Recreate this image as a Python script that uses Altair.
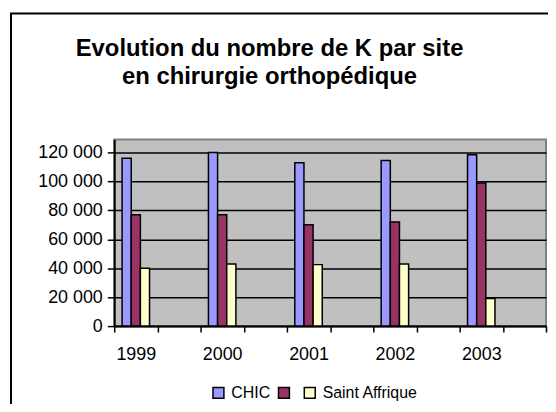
import altair as alt
import pandas as pd

years = ["1999", "2000", "2001", "2002", "2003"]
series = ["CHIC", " ", "Saint Affrique"]
chic = [116000, 120000, 113000, 114500, 118500]
second = [77000, 77000, 70000, 72000, 99000]
saint = [40000, 43000, 42500, 43000, 19000]
colors = ["#9999FF", "#993366", "#FFFFCC"]
y_ticks = [0, 20000, 40000, 60000, 80000, 100000, 120000]

cats = []
for i, y in enumerate(years):
    cats += [y, " " * (i + 1)]

rows = []
for vals, s in zip([chic, second, saint], series):
    for y, v in zip(years, vals):
        rows.append({"cat": y, "series": s, "value": v})
df = pd.DataFrame(rows)

FONT = "Liberation Sans"

bars = alt.Chart(df).mark_bar(stroke="black", strokeWidth=1.5).encode(
    x=alt.X("cat:N",
            scale=alt.Scale(domain=cats, paddingInner=0, paddingOuter=0),
            axis=alt.Axis(title=None, labelAngle=0, tickBand="extent",
                          labelFont=FONT, labelFontSize=18, labelColor="black",
                          tickSize=6, tickColor="black", tickWidth=1.5,
                          domainColor="black", domainWidth=2, labelPadding=14,
                          grid=False)),
    xOffset=alt.XOffset("series:N",
                        scale=alt.Scale(domain=series, paddingInner=0, paddingOuter=0.86)),
    y=alt.Y("value:Q", stack=None,
            scale=alt.Scale(domain=[0, 129000], nice=False),
            axis=alt.Axis(title=None, values=y_ticks,
                          labelExpr="datum.value == 0 ? '0' : (datum.value / 1000) + ' 000'",
                          labelFont=FONT, labelFontSize=18, labelColor="black",
                          tickSize=7, tickColor="black", tickWidth=1.5,
                          domainColor="black", domainWidth=2, labelPadding=5,
                          grid=True, gridColor="black", gridWidth=1.5)),
    color=alt.Color("series:N",
                    scale=alt.Scale(domain=series, range=colors),
                    legend=alt.Legend(title=None, orient="none", direction="horizontal",
                                      legendX=97, legendY=247,
                                      symbolType="square", symbolSize=121,
                                      symbolStrokeColor="black", symbolStrokeWidth=1.5,
                                      labelFont=FONT, labelFontSize=16, labelColor="black",
                                      labelOffset=5, columnPadding=4)),
)

frame_df = pd.DataFrame({"k": [0]})
frame_left = alt.Chart(frame_df).mark_rule(color="black", strokeWidth=2).encode(
    x=alt.value(-104), y=alt.value(-127), y2=alt.value(300))
frame_top = alt.Chart(frame_df).mark_rule(color="black", strokeWidth=2).encode(
    x=alt.value(-105), x2=alt.value(500), y=alt.value(-127))

chart = alt.layer(bars, frame_left, frame_top).properties(
    width=435, height=188,
    autosize=alt.AutoSizeParams(type="none"),
    padding={"left": 107, "top": 131, "right": 2, "bottom": 77},
    background="white",
    title=alt.TitleParams(
        text=["Evolution du nombre de K par site", "en chirurgie orthopédique"],
        font=FONT, fontSize=24, fontWeight="bold", color="black",
        anchor="middle", dx=-61, dy=77, offset=0, lineHeight=28),
).configure_view(
    fill="#C0C0C0", stroke="#808080", strokeWidth=2
)

chart.save("out.html", embed_options={"renderer": "svg", "actions": False})
